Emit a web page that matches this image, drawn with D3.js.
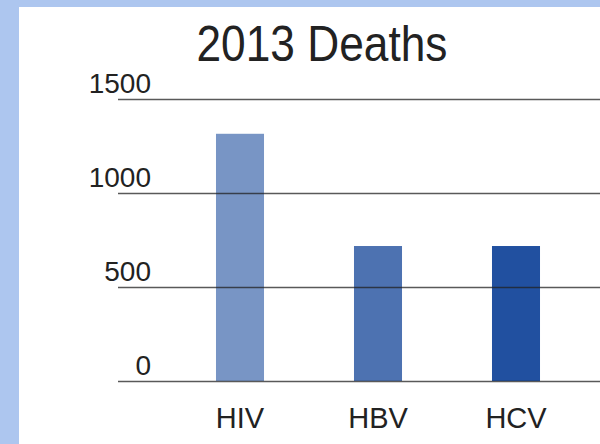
<!DOCTYPE html>
<html>
<head>
<meta charset="utf-8">
<script src="https://cdn.jsdelivr.net/npm/d3@7"></script>
<style>
  body { margin: 0; background: #adc6ef; }
  svg { display: block; }
</style>
</head>
<body>
<svg width="600" height="444"></svg>
<script>
var categories = ["HIV", "HBV", "HCV"];
var deaths = [1315, 718, 718];
var colors = ["#7895c5", "#4d72b1", "#2150a0"];
var yTicks = [0, 500, 1000, 1500];

var svg = d3.select("svg");

// white panel, blue shows at top and left
svg.append("rect")
    .attr("x", 19).attr("y", 7)
    .attr("width", 581).attr("height", 437)
    .attr("fill", "#fff");

var x = d3.scaleBand()
    .domain(categories)
    .range([171, 585])
    .paddingInner(0.652)
    .paddingOuter(0.326);

var y = d3.scaleLinear().domain([0, 1500]).range([381, 99]);

svg.append("text")
    .attr("x", 322).attr("y", 61)
    .attr("text-anchor", "middle")
    .attr("textLength", 251)
    .attr("lengthAdjust", "spacingAndGlyphs")
    .style("font", "50px 'Liberation Sans', Arial, sans-serif")
    .attr("fill", "#222")
    .text("2013 Deaths");

svg.selectAll(".bar")
    .data(categories)
  .enter().append("rect")
    .attr("class", "bar")
    .attr("x", function(d) { return x(d); })
    .attr("y", function(d, i) { return y(deaths[i]); })
    .attr("width", x.bandwidth())
    .attr("height", function(d, i) { return y(0) - y(deaths[i]); })
    .attr("fill", function(d, i) { return colors[i]; });

var yAxis = svg.append("g")
    .attr("transform", "translate(118,0)")
    .call(d3.axisLeft(y).tickValues(yTicks).tickSize(-482).tickFormat(d3.format("d")));
yAxis.select(".domain").remove();
yAxis.selectAll("line")
    .attr("stroke", "#222")
    .attr("stroke-opacity", 0.75)
    .attr("stroke-width", 1.5);
yAxis.selectAll("text")
    .attr("x", 33)
    .attr("dy", "-0.25em")
    .attr("fill", "#222")
    .style("font", "28px 'Liberation Sans', Arial, sans-serif");

var xAxis = svg.append("g")
    .attr("transform", "translate(0,381)")
    .call(d3.axisBottom(x).tickSize(0));
xAxis.select(".domain").remove();
xAxis.selectAll("text")
    .attr("y", 47)
    .attr("dy", 0)
    .attr("fill", "#222")
    .style("font", "29px 'Liberation Sans', Arial, sans-serif");
</script>
</body>
</html>
